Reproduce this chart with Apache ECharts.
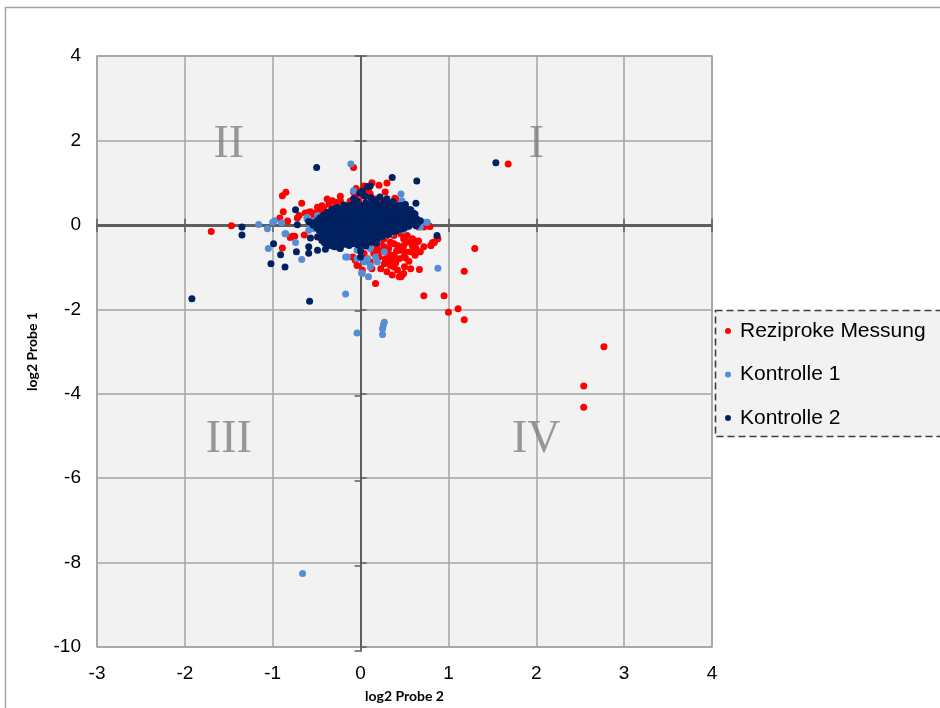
<!DOCTYPE html>
<html>
<head>
<meta charset="utf-8">
<script src="https://cdn.jsdelivr.net/npm/echarts@6/dist/echarts.min.js"></script>
<style>
  html, body { margin: 0; padding: 0; background: #ffffff; }
  #chart { width: 940px; height: 708px; }
</style>
</head>
<body>
<div id="chart"></div>
<script>
// Axis ranges and tick step
const xRange = [-3, 4];
const yRange = [-10, 4];
const tickStep = [1, 2];

// Series names shown in the legend
const seriesNames = ['Reziproke Messung', 'Kontrolle 1', 'Kontrolle 2'];

// Quadrant captions: [text, x, y]
const quadrantLabels = [
  ['I', 2, 1.9],
  ['II', -1.5, 1.9],
  ['III', -1.5, -5.1],
  ['IV', 2, -5.1]
];

// Reziproke Messung: [log2 Probe 2, log2 Probe 1]
const reziprokePoints = [
  [1.68,1.44],[1.30,-0.56],[1.18,-1.10],[0.95,-1.68],[0.72,-1.68],[1.00,-2.07],[1.11,-1.99],[1.18,-2.25],
  [2.77,-2.89],[2.54,-3.82],[2.54,-4.32],[-1.70,-0.16],[-1.47,-0.02],[-0.08,1.36],[0.68,-0.64],
  [-0.89,0.69],[-0.85,0.77],[-0.67,0.51],[-0.88,0.31],[-0.92,0.16],[-0.83,0.09],[-0.72,0.16],[-0.70,0.22],
  [-0.63,0.28],[-0.57,0.31],[-0.51,0.28],[-0.46,0.34],[-0.42,0.39],[-0.38,0.61],[-0.32,0.57],[-0.23,0.68],
  [0.04,0.92],[0.13,1.00],[0.21,0.94],[0.30,0.99],[-0.08,0.77],[-0.06,0.65],[0.09,0.81],[0.28,0.78],
  [0.23,0.57],[0.40,0.61],[0.47,0.38],[0.57,0.34],[-0.25,0.38],[-0.19,0.30],[-0.11,0.49],[-0.04,0.42],
  [-0.38,0.26],[-0.30,0.34],[-0.78,-0.27],[-0.75,-0.27],[-0.89,-0.55],[-0.64,-0.24],
  [-0.59,0.30],[-0.53,0.22],[-0.47,0.14],[-0.49,0.42],[-0.44,0.45],[-0.36,0.49],[-0.28,0.53],[-0.23,0.57],
  [-0.17,0.45],[-0.09,0.57],[-0.02,0.57],[0.04,0.69],[0.11,0.73],[0.17,0.61],[-0.05,0.86],[0.39,0.63],
  [-0.12,0.56],[0.24,0.59],[0.49,0.37],[0.34,0.26],[0.46,0.14],
  [0.27,-0.33],[0.34,-0.41],[0.42,-0.49],[0.49,-0.33],[0.46,-0.60],[0.30,-0.64],[0.38,-0.72],[0.49,-0.76],
  [0.57,-0.64],[0.64,-0.41],[0.72,-0.52],[0.80,-0.49],[0.82,-0.42],[0.72,-0.05],[0.78,-0.03],[0.87,-0.31],
  [0.57,-1.04],[0.49,-1.15],[0.46,-1.23],[0.67,-1.06],[0.17,-1.39],[0.27,-0.92],[0.34,-0.96],[0.42,-1.07],
  [-0.04,-0.96],[0.08,-0.80],[0.15,-0.68],[0.19,-0.52],[0.23,-0.41],[0.11,-0.49],[0.04,-0.68],[-0.09,-0.76],
  [-0.06,-0.84],[0.02,-1.07],[0.11,-0.88],[0.27,-0.52],[0.32,-0.56],[0.38,-0.45],[0.49,-0.49],[0.53,-0.41],
  [0.59,-0.33],[0.30,-0.25],[0.38,-0.25],[0.46,-0.21],[0.53,-0.25],[0.59,-0.49],[0.63,-0.56],[0.51,-0.64],
  [0.44,-0.80],[0.36,-0.84],[0.28,-0.80],[0.21,-0.76],[0.13,-1.04],[0.23,-1.04],[0.30,-1.11],[0.36,-1.19],
  [0.50,-0.99],[0.47,-1.19],[0.44,-1.23],[0.38,-1.00],[0.36,-0.76],[0.51,-0.78],[0.60,-0.37],[0.66,-0.38],
  [0.79,-0.04],[0.66,-0.05],[0.84,-0.42],[0.80,-0.49],[0.61,-0.37],[0.88,-0.33],[-0.16,-0.31],[-0.80,-0.30],
  [0.24,-0.62],[0.33,-0.70],[0.41,-0.62],[0.18,-0.60],[0.40,-0.90],[0.31,-0.86],[0.55,-0.86],[0.62,-0.72]
];

// Kontrolle 1
const kontrolle1Points = [
  [-0.66,-8.26],[-0.04,-2.56],[0.27,-2.31],[0.26,-2.37],[0.25,-2.46],[0.25,-2.60],[-0.17,-1.64],[-0.11,1.44],
  [0.88,-1.03],[0.09,-1.23],[0.01,-1.14],[-1.16,0.01],[-1.06,-0.09],[-1.00,0.06],[-0.98,0.10],[-1.05,-0.56],
  [-0.85,-0.21],[-0.74,-0.42],[-0.67,-0.82],[-0.61,0.14],[-0.57,-0.05],[-0.53,-0.09],[-0.59,-0.13],[-0.47,-0.21],
  [-0.44,-0.13],[-0.49,0.22],[-0.08,0.81],[0.46,0.73],[0.47,0.57],[0.59,0.06],[0.74,0.06],[0.68,-0.05],
  [0.02,-1.15],[0.11,-1.00],[0.04,-0.88],[-0.04,-0.80],[0.19,-0.88],[0.27,-0.64],[0.19,-0.33],[0.11,-0.33],
  [0.42,-0.09],[0.49,-0.13],[0.34,-0.21],[0.11,-0.56],[0.06,-0.49],[-0.15,-0.76],[-0.23,-0.49],[-0.34,-0.41],
  [-0.38,-0.33],[-0.27,-0.25],[-0.27,0.06],[-0.11,0.14],[0.19,-0.13],[0.34,-0.02],[0.46,0.06],[0.56,0.02],
  [0.76,0.06],[-0.17,-0.76],[-0.04,-0.60],[0.08,-0.80],[0.11,-0.96],[0.17,-0.76],[0.19,-0.41],[0.27,-0.25],
  [0.44,-0.09],[0.54,-0.05],[-0.61,0.18],[-0.53,0.10],[-0.90,0.05],[-0.86,-0.21]
];

// Kontrolle 2
const kontrolle2Points = [
  [1.54,1.47],[-1.92,-1.75],[-0.58,-1.81],[-0.50,1.36],[-1.35,-0.05],[-1.35,-0.24],[-1.02,-0.92],[-0.86,-1.00],
  [-0.99,-0.45],[-0.91,-0.71],[-0.73,-0.64],[-0.59,-0.52],[-0.59,-0.67],[-0.57,-0.31],[-0.49,-0.60],[-0.40,-0.58],
  [-0.30,-0.52],[-0.23,-0.56],[-0.49,-0.29],[0.36,1.12],[0.64,1.04],[0.08,0.91],[0.11,0.92],[-0.01,0.75],
  [0.63,0.51],[0.56,0.35],[0.52,0.22],[0.87,-0.25],[-0.74,0.36],[-0.72,0.00],[-0.57,0.06],[-0.59,0.08],
  [-0.34,0.14],[-0.27,0.32],[0.00,-0.76],[0.00,-0.62],[-0.24,-0.55],[0.15,-0.36],[0.18,-0.43],
  [0.05,0.68],[0.12,0.64],[-0.08,0.62],[0.22,0.66],[0.30,0.62],[0.02,0.80],
  [-0.04,0.56],[0.06,0.53],[0.17,0.57],[0.27,0.54],[0.37,0.55],
  [-0.19,0.47],[-0.08,0.49],[0.02,0.46],[0.12,0.49],[0.22,0.47],[0.31,0.48],[0.43,0.46],[0.51,0.48],
  [-0.26,0.41],[-0.14,0.43],[-0.03,0.41],[0.07,0.42],[0.16,0.40],[0.26,0.43],[0.35,0.41],[0.47,0.42],
  [-0.33,0.35],[-0.21,0.37],[-0.11,0.35],[-0.01,0.36],[0.09,0.34],[0.19,0.37],[0.29,0.35],[0.39,0.36],[0.48,0.34],[0.57,0.36],
  [-0.38,0.29],[-0.28,0.31],[-0.17,0.29],[-0.06,0.30],[0.04,0.28],[0.14,0.31],[0.24,0.29],[0.33,0.30],[0.43,0.28],[0.53,0.31],
  [-0.42,0.23],[-0.33,0.25],[-0.22,0.23],[-0.12,0.24],[-0.02,0.22],[0.08,0.25],[0.18,0.23],[0.28,0.24],[0.37,0.22],[0.46,0.25],[0.56,0.23],[0.62,0.26],
  [-0.46,0.17],[-0.36,0.19],[-0.26,0.17],[-0.16,0.18],[-0.07,0.16],[0.03,0.19],[0.13,0.17],[0.22,0.18],[0.32,0.16],[0.41,0.19],[0.51,0.17],[0.60,0.18],
  [-0.49,0.11],[-0.39,0.13],[-0.29,0.11],[-0.19,0.12],[-0.09,0.10],[0.01,0.13],[0.11,0.11],[0.20,0.12],[0.30,0.10],[0.40,0.13],[0.49,0.11],[0.58,0.12],[0.68,0.10],
  [-0.52,0.05],[-0.42,0.07],[-0.31,0.05],[-0.21,0.06],[-0.11,0.04],[-0.01,0.07],[0.09,0.05],[0.19,0.06],[0.28,0.04],[0.38,0.07],[0.47,0.05],[0.57,0.06],[0.65,0.04],
  [-0.54,-0.01],[-0.44,0.01],[-0.34,-0.01],[-0.23,0.00],[-0.13,-0.02],[-0.03,0.01],[0.07,-0.01],[0.17,0.00],[0.26,-0.02],[0.36,0.01],[0.45,-0.01],[0.55,0.00],[0.63,-0.02],
  [-0.50,-0.07],[-0.40,-0.05],[-0.30,-0.07],[-0.20,-0.06],[-0.10,-0.08],[0.00,-0.05],[0.10,-0.07],[0.21,-0.06],[0.31,-0.08],[0.40,-0.05],[0.50,-0.07],
  [-0.47,-0.13],[-0.37,-0.11],[-0.26,-0.13],[-0.16,-0.12],[-0.06,-0.14],[0.04,-0.11],[0.14,-0.13],[0.24,-0.12],[0.34,-0.14],[0.43,-0.11],
  [-0.44,-0.19],[-0.34,-0.17],[-0.23,-0.19],[-0.13,-0.18],[-0.03,-0.20],[0.07,-0.17],[0.17,-0.19],[0.27,-0.18],[0.36,-0.16],
  [-0.43,-0.25],[-0.32,-0.23],[-0.21,-0.25],[-0.11,-0.24],[-0.01,-0.26],[0.09,-0.23],[0.19,-0.25],[0.28,-0.23],
  [-0.41,-0.31],[-0.30,-0.29],[-0.19,-0.31],[-0.09,-0.30],[0.01,-0.32],[0.11,-0.29],[0.20,-0.31],
  [-0.44,-0.37],[-0.34,-0.35],[-0.23,-0.37],[-0.13,-0.36],[-0.03,-0.38],[0.07,-0.35],
  [-0.41,-0.43],[-0.30,-0.41],[-0.19,-0.43],[-0.09,-0.42],[0.02,-0.44],[0.12,-0.41],
  [-0.35,-0.49],[-0.24,-0.47],[-0.13,-0.49],[-0.03,-0.48],[0.06,-0.50],
  [-0.13,0.45],[-0.03,0.44],[0.07,0.46],[0.17,0.44],[0.27,0.45],[0.37,0.44],[0.47,0.46],
  [-0.30,0.39],[-0.20,0.40],[-0.09,0.38],[0.02,0.39],[0.11,0.40],[0.21,0.38],[0.31,0.39],[0.41,0.40],[0.52,0.38],
  [-0.33,0.33],[-0.23,0.32],[-0.12,0.33],[-0.01,0.32],[0.09,0.31],[0.19,0.33],[0.28,0.32],[0.38,0.33],[0.48,0.31],
  [-0.37,0.27],[-0.27,0.26],[-0.17,0.27],[-0.07,0.26],[0.03,0.27],[0.13,0.26],[0.23,0.27],[0.33,0.26],[0.42,0.27],[0.51,0.26],[0.60,0.28],
  [-0.41,0.21],[-0.31,0.20],[-0.21,0.21],[-0.11,0.20],[-0.02,0.21],[0.08,0.20],[0.18,0.21],[0.27,0.20],[0.36,0.21],[0.46,0.20],[0.56,0.21],
  [-0.44,0.15],[-0.34,0.14],[-0.24,0.15],[-0.14,0.14],[-0.04,0.15],[0.06,0.14],[0.16,0.15],[0.25,0.14],[0.35,0.15],[0.45,0.14],[0.55,0.15],[0.64,0.14],
  [-0.47,0.09],[-0.36,0.08],[-0.26,0.09],[-0.16,0.08],[-0.06,0.09],[0.04,0.08],[0.14,0.09],[0.24,0.08],[0.33,0.09],[0.43,0.08],[0.52,0.09],[0.62,0.08],
  [-0.49,0.03],[-0.38,0.02],[-0.28,0.03],[-0.18,0.02],[-0.08,0.03],[0.02,0.02],[0.12,0.03],[0.22,0.02],[0.31,0.03],[0.41,0.02],[0.50,0.03],[0.60,0.02],
  [-0.47,-0.03],[-0.37,-0.04],[-0.26,-0.03],[-0.16,-0.04],[-0.06,-0.03],[0.04,-0.04],[0.15,-0.03],[0.25,-0.04],[0.35,-0.03],[0.44,-0.04],[0.55,-0.03],
  [-0.44,-0.09],[-0.34,-0.10],[-0.24,-0.09],[-0.13,-0.10],[-0.03,-0.09],[0.07,-0.10],[0.17,-0.09],[0.27,-0.10],[0.37,-0.09],[0.47,-0.10],
  [-0.41,-0.15],[-0.31,-0.16],[-0.20,-0.15],[-0.10,-0.16],[0.00,-0.15],[0.10,-0.16],[0.20,-0.15],[0.30,-0.16],[0.40,-0.15],
  [-0.38,-0.21],[-0.27,-0.22],[-0.17,-0.21],[-0.07,-0.22],[0.03,-0.21],[0.13,-0.22],[0.23,-0.21],[0.32,-0.22],
  [-0.36,-0.27],[-0.25,-0.28],[-0.14,-0.27],[-0.04,-0.28],[0.06,-0.27],[0.16,-0.28],[0.25,-0.27],
  [-0.38,-0.33],[-0.28,-0.34],[-0.18,-0.33],[-0.08,-0.34],[0.03,-0.33],[0.12,-0.34],
  [-0.38,-0.39],[-0.26,-0.40],[-0.15,-0.39],[-0.04,-0.40],[0.07,-0.39],
  [-0.30,-0.45],[-0.18,-0.46],[-0.08,-0.45],[0.02,-0.46]
];

const seriesColors = ['#ff0000', '#558ed5', '#002060'];
const seriesData = [reziprokePoints, kontrolle1Points, kontrolle2Points];

const plotRect = { left: 97, top: 56, right: 228, bottom: 57 };
const gridLineColor = '#a3a3a3';
const zeroLineColor = '#5e5e5e';
const tickFont = 'Liberation Sans, Arial, sans-serif';

// Axis that only draws the zero line and its tick marks
function zeroAxis(extra, range, step) {
  return Object.assign({
    type: 'value',
    min: range[0], max: range[1], interval: step,
    axisLine: { show: true, onZero: true, lineStyle: { color: zeroLineColor, width: 1.8 } },
    axisTick: { show: true, length: 6, lineStyle: { color: zeroLineColor, width: 1.5 } },
    axisLabel: { show: false },
    splitLine: { show: false }
  }, extra);
}

const chart = echarts.init(document.getElementById('chart'), null, { renderer: 'canvas' });

const option = {
  animation: false,
  backgroundColor: '#ffffff',
  grid: [
    Object.assign({ show: true, backgroundColor: '#f2f2f2', borderColor: gridLineColor, borderWidth: 1.5 }, plotRect),
    Object.assign({ show: false }, plotRect)
  ],
  xAxis: [
    {
      type: 'value', gridIndex: 0, position: 'bottom',
      min: xRange[0], max: xRange[1], interval: tickStep[0],
      axisLine: { show: false, onZero: false },
      axisTick: { show: false },
      axisLabel: { color: '#000', fontSize: 19, fontFamily: tickFont, margin: 17 },
      splitLine: { show: true, lineStyle: { color: gridLineColor, width: 1.5 } },
      name: 'log2 Probe 2', nameLocation: 'middle', nameGap: 42,
      nameTextStyle: { color: '#000', fontSize: 14, fontWeight: 'bold', fontFamily: 'Lato, sans-serif' }
    },
    zeroAxis({ gridIndex: 0, position: 'top' }, xRange, tickStep[0]),
    zeroAxis({ gridIndex: 1, position: 'bottom' }, xRange, tickStep[0])
  ],
  yAxis: [
    {
      type: 'value', gridIndex: 0, position: 'left',
      min: yRange[0], max: yRange[1], interval: tickStep[1],
      axisLine: { show: false, onZero: false },
      axisTick: { show: false },
      axisLabel: { color: '#000', fontSize: 19, fontFamily: tickFont, margin: 16 },
      splitLine: { show: true, lineStyle: { color: gridLineColor, width: 1.5 } },
      name: 'log2 Probe 1', nameLocation: 'middle', nameGap: 58, nameRotate: 90,
      nameTextStyle: { color: '#000', fontSize: 14, fontWeight: 'bold', fontFamily: 'Lato, sans-serif' }
    },
    zeroAxis({ gridIndex: 0, position: 'right' }, yRange, tickStep[1]),
    zeroAxis({ gridIndex: 1, position: 'left' }, yRange, tickStep[1])
  ],
  legend: {
    data: seriesNames,
    orient: 'vertical',
    left: 715, top: 310,
    padding: [10, 30, 8, 10],
    itemWidth: 6, itemHeight: 6,
    itemGap: 21.5,
    icon: 'circle',
    textStyle: { color: '#000', fontSize: 21, lineHeight: 22, fontFamily: tickFont, padding: [0, 0, 0, 4] },
    z: 10
  },
  graphic: [
    {
      type: 'rect', z: 1,
      shape: { x: 5.5, y: 7.5, width: 1000, height: 1000 },
      style: { fill: 'none', stroke: '#a6a6a6', lineWidth: 1.5 }
    },
    {
      type: 'rect', z: 5,
      shape: { x: 715.5, y: 310.5, width: 260, height: 126 },
      style: { fill: '#f2f2f2', stroke: '#3c3c3c', lineWidth: 1.6, lineDash: [7, 4] }
    }
  ],
  series: [
    {
      type: 'scatter', name: 'quadrants', xAxisIndex: 0, yAxisIndex: 0,
      symbolSize: 0, silent: true, z: 1,
      data: quadrantLabels.map(q => ({ name: q[0], value: [q[1], q[2]] })),
      label: {
        show: true, position: 'inside', formatter: p => p.name,
        color: '#808080', fontSize: 46, fontFamily: 'Liberation Serif, DejaVu Serif, serif'
      }
    }
  ].concat(seriesNames.map((name, i) => ({
    type: 'scatter', name: name, xAxisIndex: 0, yAxisIndex: 0,
    symbol: 'circle', symbolSize: 7,
    itemStyle: { color: seriesColors[i], opacity: 1 },
    data: seriesData[i],
    z: 2 + i
  })))
};

chart.setOption(option);
</script>
</body>
</html>
